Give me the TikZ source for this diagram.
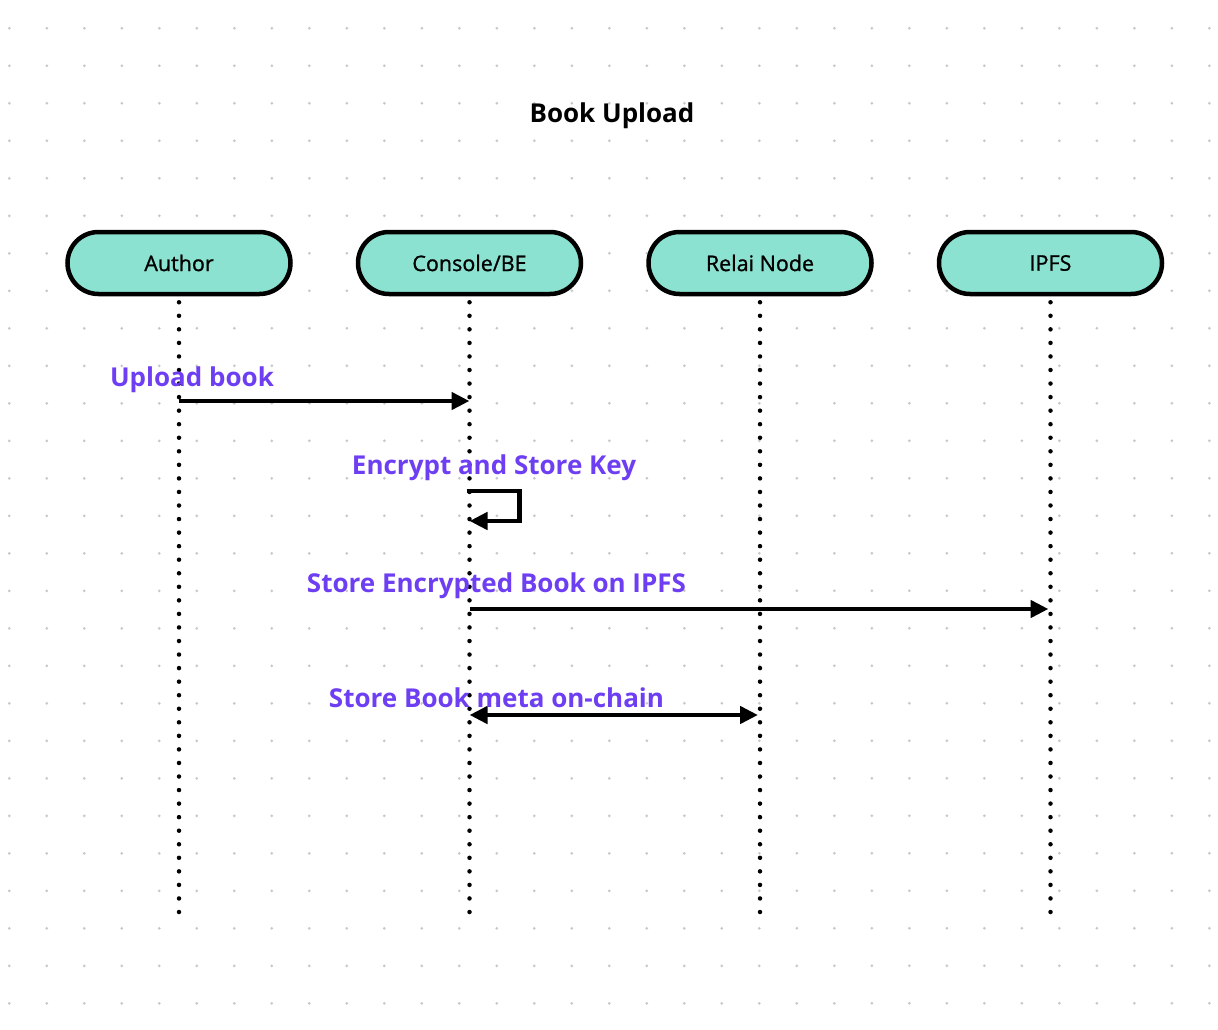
\documentclass[tikz,border=0pt]{standalone}
\usepackage{fontspec}
\setmainfont{Open Sans}
\newfontfamily\actorfont[FakeBold=1]{Open Sans}
\usepackage{tikz}
\usetikzlibrary{arrows.meta,positioning}

\definecolor{actorfill}{HTML}{8CE2D0}
\definecolor{msgpurple}{HTML}{6E3FF2}
\definecolor{griddot}{HTML}{C8C8C8}

\begin{document}
\begin{tikzpicture}[x=1pt, y=-1pt, node distance=63pt, >={Triangle[length=18pt,width=17pt]}]
  \tikzstyle{actor}=[rectangle, draw, line width=4.5pt, fill=actorfill, rounded corners=31pt, minimum width=223pt, minimum height=62pt, font=\actorfont\fontsize{21.5}{24}\selectfont]
  \tikzstyle{lifeline}=[line width=4.5pt, line cap=round, dash pattern=on 0pt off 13.55pt]
  \tikzstyle{msg}=[line width=4.5pt]
  \tikzstyle{msglabel}=[text=msgpurple, font=\fontsize{26}{30}\selectfont\bfseries, inner sep=0pt]
  \useasboundingbox (0,0) rectangle (1218,1030);
  % dotted background grid
  \foreach \i in {0,...,32}
    \foreach \j in {0,...,26}
      \fill[griddot] (9.3+37.5*\i, 28.3+37.5*\j) circle (1.5pt);
  \node[font=\fontsize{26}{30}\selectfont\bfseries] (title) at (612,116) {Book Upload};
  % participants
  \node[actor] (author) at (179,263) {Author};
  \node[actor, right=of author] (console) {Console/BE};
  \node[actor, right=of console] (relai) {Relai Node};
  \node[actor, right=of relai] (ipfs) {IPFS};
  % lifelines
  \coordinate (bottom) at (0,914);
  \foreach \p in {author,console,relai,ipfs}
    \draw[lifeline] ([yshift=-6pt]\p.south) -- (\p |- bottom);
  % message heights
  \coordinate (m1) at (0,401);
  \coordinate (m2a) at (0,491);
  \coordinate (m2b) at (0,521);
  \coordinate (m3) at (0,609);
  \coordinate (m4) at (0,715);
  \draw[msg, ->] (author |- m1) -- (console |- m1);
  \node[msglabel] (l1) at (192,380) {Upload book};
  \draw[msg, ->] ([xshift=-3pt]console |- m2a) -| ([xshift=50pt]console |- m2b) -- (console |- m2b);
  \node[msglabel] (l2) at (494,468) {Encrypt and Store Key};
  \draw[msg, ->] (console |- m3) -- ([xshift=-2pt]ipfs |- m3);
  \node[msglabel] (l3) at (496.5,586) {Store Encrypted Book on IPFS};
  \draw[msg, <->] (console |- m4) -- ([xshift=-2pt]relai |- m4);
  \node[msglabel] (l4) at (496.5,698) {Store Book meta on-chain};
\end{tikzpicture}
\end{document}
